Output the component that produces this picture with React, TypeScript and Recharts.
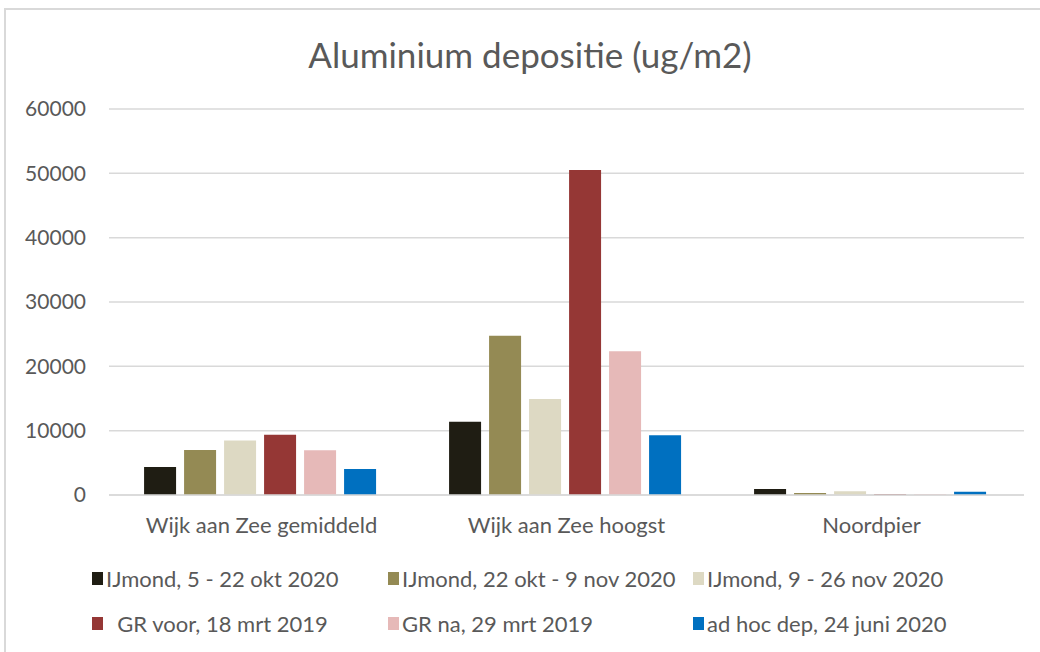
import { BarChart, Bar, XAxis, YAxis, CartesianGrid } from "recharts";

const categories = ["Wijk aan Zee gemiddeld", "Wijk aan Zee hoogst", "Noordpier"];

const seriesNames = [
  "IJmond, 5 - 22 okt 2020",
  "IJmond, 22 okt - 9 nov 2020",
  "IJmond, 9 - 26 nov 2020",
  "  GR voor, 18 mrt 2019",
  "GR na, 29 mrt 2019",
  "ad hoc dep, 24 juni 2020",
];

const seriesColors = ["#1f1d13", "#948a54", "#ddd9c3", "#953735", "#e6b9b8", "#0070c0"];

// one array per series, values in category order
const ijmondOkt = [4350, 11400, 950];
const ijmondOktNov = [6990, 24770, 300];
const ijmondNov = [8490, 14920, 600];
const grVoor = [9360, 50530, 100];
const grNa = [6940, 22330, 100];
const adHoc = [4040, 9270, 500];

const seriesValues = [ijmondOkt, ijmondOktNov, ijmondNov, grVoor, grNa, adHoc];

const yTicks = [0, 10000, 20000, 30000, 40000, 50000, 60000];

const data = categories.map((name, i) => {
  const row: Record<string, string | number> = { name };
  seriesValues.forEach((vals, s) => {
    row["s" + s] = vals[i];
  });
  return row;
});

const FONT = "Lato, 'Open Sans', sans-serif";
const TEXT = "#595959";

// legend column x positions (square left edge) and row y centers
const legendCols = [92, 388, 693];
const legendRows = [578, 623];

export default function App() {
  return (
    <div
      style={{
        position: "absolute",
        left: 0,
        top: 0,
        width: 1040,
        height: 652,
        overflow: "hidden",
        background: "#fff",
        fontFamily: FONT,
      }}
    >
      {/* chart frame */}
      <div
        style={{
          position: "absolute",
          left: 4,
          top: 8,
          width: 1060,
          height: 670,
          border: "2px solid #d9d9d9",
        }}
      />

      <div
        style={{
          position: "absolute",
          left: 0,
          top: 33,
          width: 1060,
          textAlign: "center",
          fontSize: 35,
          color: TEXT,
          lineHeight: "42px",
        }}
      >
        Aluminium depositie (ug/m2)
      </div>

      <div style={{ position: "absolute", left: 0, top: 0 }}>
        <BarChart
          width={1040}
          height={652}
          data={data}
          margin={{ top: 109, right: 16, bottom: 107, left: 0 }}
          barCategoryGap="11.5%"
          barGap={8}
        >
          <CartesianGrid vertical={false} stroke="#d9d9d9" strokeWidth={1.5} />
          <XAxis
            dataKey="name"
            axisLine={{ stroke: "#d9d9d9", strokeWidth: 1.5 }}
            tickLine={false}
            tick={{ fill: TEXT, fontSize: 22, fontFamily: FONT }}
            tickMargin={16}
            height={50}
          />
          <YAxis
            domain={[0, 60000]}
            ticks={yTicks}
            axisLine={false}
            tickLine={false}
            tickSize={0}
            tickMargin={23}
            width={109}
            tick={{ fill: TEXT, fontSize: 21, fontFamily: FONT }}
          />
          {seriesNames.map((n, s) => (
            <Bar
              key={s}
              dataKey={"s" + s}
              name={n}
              fill={seriesColors[s]}
              isAnimationActive={false}
            />
          ))}
        </BarChart>
      </div>

      {/* legend */}
      {seriesNames.map((n, s) => {
        const col = s % 3;
        const row = Math.floor(s / 3);
        return (
          <div
            key={s}
            style={{
              position: "absolute",
              left: legendCols[col],
              top: legendRows[row] - 13,
              height: 26,
              display: "flex",
              alignItems: "center",
              fontSize: 22,
              color: TEXT,
              whiteSpace: "pre",
            }}
          >
            <span
              style={{
                display: "inline-block",
                width: 11,
                height: 13,
                background: seriesColors[s],
                marginRight: 3,
              }}
            />
            <span>{n}</span>
          </div>
        );
      })}
    </div>
  );
}
